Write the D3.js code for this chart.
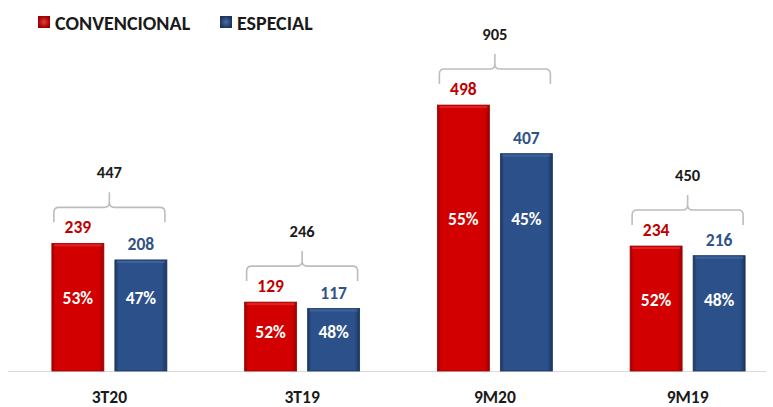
<!DOCTYPE html>
<html>
<head>
<meta charset="utf-8">
<script src="https://cdn.jsdelivr.net/npm/d3@7"></script>
<style>
  html, body { margin: 0; padding: 0; background: #ffffff; }
  svg { display: block; }
  text { font-family: Carlito, "Liberation Sans", Arial, sans-serif; font-weight: bold; }
</style>
</head>
<body>
<svg id="chart" width="773" height="407"></svg>
<script>
// Periods on the x axis
const categories = ["3T20", "3T19", "9M20", "9M19"];
// Series values per period
const convencional = [239, 129, 498, 234];
const especial = [208, 117, 407, 216];
const seriesNames = ["CONVENCIONAL", "ESPECIAL"];

const W = 773, H = 407;
const svg = d3.select("#chart");
const defs = svg.append("defs");

const palette = {
  conv: { base: "#d20000", dark: "#9c0000", light: "#e83a3a", label: "#c00000" },
  esp:  { base: "#2c5089", dark: "#1b355f", light: "#4a6fa8", label: "#2f5385" }
};

// Bevelled bar fills
Object.entries(palette).forEach(([k, c]) => {
  const g = defs.append("linearGradient").attr("id", "grad-" + k)
    .attr("x1", "0").attr("y1", "0").attr("x2", "1").attr("y2", "0");
  g.append("stop").attr("offset", "0").attr("stop-color", c.dark);
  g.append("stop").attr("offset", "0.07").attr("stop-color", c.base);
  g.append("stop").attr("offset", "0.9").attr("stop-color", c.base);
  g.append("stop").attr("offset", "1").attr("stop-color", c.dark);
  const r = defs.append("radialGradient").attr("id", "leg-" + k);
  r.append("stop").attr("offset", "0").attr("stop-color", c.light);
  r.append("stop").attr("offset", "1").attr("stop-color", c.dark);
});

const baseY = 371;
const x0 = d3.scaleBand().domain(categories).range([13, 784]);
const groupW = 115;
const x1 = d3.scaleBand().domain(["conv", "esp"]).range([0, groupW]).paddingInner(0.175);
const y = d3.scaleLinear().domain([0, 500]).range([baseY, 104]);

const rows = categories.map((c, i) => ({
  cat: c,
  conv: convencional[i],
  esp: especial[i],
  total: convencional[i] + especial[i]
}));

// Baseline
svg.append("line")
  .attr("x1", 8).attr("x2", 766)
  .attr("y1", baseY + 0.5).attr("y2", baseY + 0.5)
  .attr("stroke", "#d9d9d9").attr("stroke-width", 1);

const groups = svg.selectAll("g.grp").data(rows).join("g")
  .attr("class", "grp")
  .attr("transform", d => `translate(${x0(d.cat) + x0.bandwidth() / 2 - groupW / 2},0)`);

["conv", "esp"].forEach(k => {
  groups.append("rect")
    .attr("x", x1(k))
    .attr("y", d => y(d[k]))
    .attr("width", x1.bandwidth())
    .attr("height", d => baseY - y(d[k]))
    .attr("fill", `url(#grad-${k})`)
    .attr("stroke", palette[k].dark).attr("stroke-width", 0.8);
  // top highlight
  groups.append("rect")
    .attr("x", x1(k) + 2)
    .attr("y", d => y(d[k]) + 1)
    .attr("width", x1.bandwidth() - 4)
    .attr("height", 2)
    .attr("fill", palette[k].light).attr("opacity", 0.6);
  // value above bar
  groups.append("text")
    .attr("x", x1(k) + x1.bandwidth() / 2)
    .attr("y", d => y(d[k]) - 16)
    .attr("text-anchor", "middle").attr("dominant-baseline", "central")
    .attr("font-size", 17.5)
    .attr("fill", palette[k].label)
    .text(d => d[k]);
  // share of total inside bar
  groups.append("text")
    .attr("x", x1(k) + x1.bandwidth() / 2)
    .attr("y", d => y(d.conv * 0.57))
    .attr("text-anchor", "middle").attr("dominant-baseline", "central")
    .attr("font-size", 17.5)
    .attr("fill", "#ffffff")
    .text(d => Math.round(d[k] / d.total * 100) + "%");
});

// Brace over each pair with the total
groups.each(function (d) {
  const g = d3.select(this);
  const top = y(Math.max(d.conv, d.esp));
  const yl = top - 36, ye = yl + 15, ys = yl - 15;
  const xa = x1("conv") + 2, xb = x1("esp") + x1.bandwidth() - 2, xm = groupW / 2;
  const r = 5;
  const p = d3.path();
  p.moveTo(xa, ye); p.lineTo(xa, yl + r);
  p.quadraticCurveTo(xa, yl, xa + r, yl);
  p.lineTo(xm - r, yl);
  p.quadraticCurveTo(xm, yl, xm, yl - r);
  p.lineTo(xm, ys);
  p.moveTo(xm, yl - r);
  p.quadraticCurveTo(xm, yl, xm + r, yl);
  p.lineTo(xb - r, yl);
  p.quadraticCurveTo(xb, yl, xb, yl + r);
  p.lineTo(xb, ye);
  g.append("path").attr("d", p.toString())
    .attr("fill", "none").attr("stroke", "#bdbdbd").attr("stroke-width", 1.6);
  g.append("text")
    .attr("x", xm).attr("y", yl - 35)
    .attr("text-anchor", "middle").attr("dominant-baseline", "central")
    .attr("font-size", 16.5).attr("fill", "#1a1a1a")
    .text(d.total);
});

// Category axis labels
const xAxis = d3.axisBottom(x0).tickSize(0).tickPadding(0);
const ax = svg.append("g").attr("transform", `translate(0,${baseY})`).call(xAxis);
ax.select(".domain").remove();
ax.selectAll("text")
  .attr("y", 26).attr("dy", null)
  .attr("dominant-baseline", "central")
  .attr("font-size", 17.5).attr("fill", "#1a1a1a")
  .style("font-family", 'Carlito, "Liberation Sans", Arial, sans-serif')
  .style("font-weight", "bold");

// Legend
const legendX = [38, 220];
const legend = svg.selectAll("g.leg").data(seriesNames).join("g")
  .attr("class", "leg")
  .attr("transform", (d, i) => `translate(${legendX[i]},16)`);
legend.append("rect")
  .attr("width", 12).attr("height", 12)
  .attr("fill", (d, i) => `url(#leg-${i === 0 ? "conv" : "esp"})`);
legend.append("text")
  .attr("x", 17).attr("y", 6.5)
  .attr("dominant-baseline", "central")
  .attr("font-size", 20).attr("fill", "#1a1a1a")
  .text(d => d);
</script>
</body>
</html>
